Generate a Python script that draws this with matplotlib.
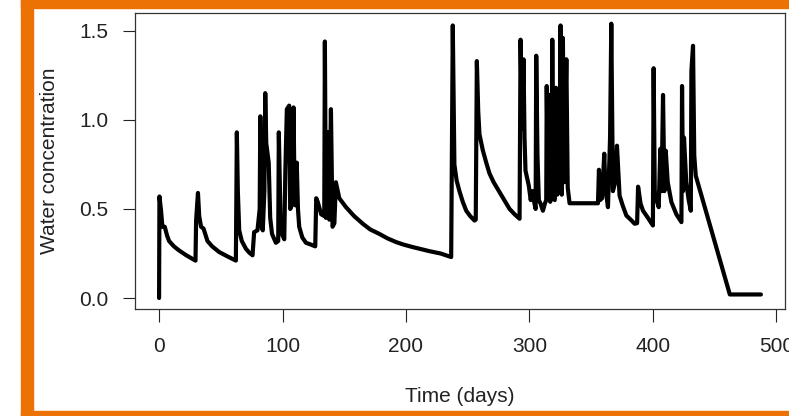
import matplotlib.pyplot as plt
from matplotlib.patches import Rectangle

# simulated water concentration through time
days = [0, 0.3, 1.6, 2.7, 4.6, 6.5, 8.1, 12, 16.2, 22, 29.5,
        30.0, 31.5, 32.5, 34, 36, 39.2, 43, 48.7, 55, 62.2,
        63.0, 63.8, 64.9, 67, 70.3, 73, 75.7,
        77.0, 79.7, 81.5, 82.0, 83.0, 84.0, 85.3, 86.0, 86.8, 88.8, 90.0, 91.5, 94.6,
        96.5, 97.0, 98.5, 99.5, 101.4,
        102.3, 103.5, 105.4, 106.2, 107.5, 108.9, 109.8, 110.5, 111.5, 112.5, 113.5,
        116, 119, 123, 126.5,
        127.3, 128.5, 131.3, 133.8, 134.3, 135.1, 136.7, 137.9, 139.2, 140.5, 142.0, 143.2,
        146, 151.4, 158, 165, 171, 178.4, 185, 192, 198, 205.4, 212, 219, 228, 236.6,
        237.9, 239.2, 241, 243.3, 246, 248.8, 252, 255.5, 256.5,
        257.4, 258.5, 259.5, 262.2, 265, 267.6, 271, 275.8, 280, 283.9, 288, 292,
        292.8, 294.0, 295.2, 296.0, 296.8, 299.5, 301.0, 302.5, 303.5, 305.0,
        305.5, 306.5, 307.6, 309.0, 310.9, 312.5, 313.6,
        314.0, 315.0, 315.8, 316.8, 317.8, 318.5, 319.5, 320.5, 321.5, 322.5, 323.5, 324.3,
        325.2, 326.2, 327.1, 328.0, 329.9, 331.0, 332.5, 355.5,
        356.3, 357.3, 358.8, 360.6, 361.5, 363.6, 365.3, 366.3, 367.6, 369.5, 370.9,
        373, 375.5, 378.5, 382, 385.2, 387.2, 388, 390, 392, 396, 400,
        400.6, 401.5, 403.0, 404.7, 406.0, 407.0, 408.2, 409.3, 410.4, 412, 415, 419, 423.1,
        423.6, 424.4, 425.2, 427, 429, 430.7, 431.2, 432.5, 433.5, 434.7,
        462.3, 487.5]
conc = [0.00, 0.57, 0.49, 0.40, 0.40, 0.35, 0.32, 0.29, 0.267, 0.24, 0.21,
        0.435, 0.59, 0.46, 0.40, 0.39, 0.32, 0.29, 0.258, 0.235, 0.21,
        0.93, 0.60, 0.38, 0.32, 0.277, 0.255, 0.24,
        0.37, 0.38, 0.50, 1.02, 0.40, 0.38, 0.60, 1.15, 0.87, 0.76, 0.45, 0.36, 0.31,
        0.32, 0.93, 0.40, 0.36, 0.33,
        0.72, 1.06, 1.08, 0.50, 0.52, 1.07, 0.55, 0.52, 0.76, 0.50, 0.40,
        0.34, 0.31, 0.30, 0.29,
        0.56, 0.54, 0.47, 0.46, 1.44, 0.45, 0.93, 0.44, 1.06, 0.40, 0.42, 0.65,
        0.56, 0.51, 0.46, 0.417, 0.385, 0.36, 0.335, 0.314, 0.30, 0.286, 0.275, 0.263, 0.25, 0.23,
        1.53, 0.75, 0.66, 0.60, 0.54, 0.49, 0.46, 0.435, 0.44,
        1.33, 1.05, 0.92, 0.83, 0.76, 0.70, 0.65, 0.594, 0.545, 0.50, 0.47, 0.445,
        1.45, 0.95, 1.34, 0.90, 0.715, 0.63, 0.55, 0.60, 0.55, 0.50,
        1.36, 0.80, 0.55, 0.53, 0.49, 0.53, 0.55,
        1.19, 0.60, 1.14, 0.54, 0.57, 1.45, 0.56, 0.55, 1.18, 0.58, 1.00, 0.60,
        1.53, 0.58, 1.46, 0.65, 1.34, 0.62, 0.532, 0.532,
        0.72, 0.55, 0.56, 0.81, 0.62, 0.51, 0.90, 1.54, 0.60, 0.65, 0.855,
        0.575, 0.52, 0.463, 0.44, 0.417, 0.42, 0.625, 0.53, 0.49, 0.45, 0.407,
        1.29, 0.60, 0.55, 0.51, 0.837, 0.60, 1.14, 0.60, 0.827, 0.65, 0.538, 0.47, 0.426,
        1.19, 0.60, 0.90, 0.65, 0.55, 0.49, 1.276, 1.416, 0.80, 0.687,
        0.02, 0.02]

xticks = [0, 100, 200, 300, 400, 500]
yticks = [0.0, 0.5, 1.0, 1.5]

plt.rcParams['font.family'] = ['Liberation Sans', 'DejaVu Sans']
fig = plt.figure(figsize=(7.89, 4.16), dpi=100)

# orange frame around the panel
orange = '#EC7205'
W, H = 789, 416
for x0, y0, w, h in [(21, 0, 12, 416), (21, 0, 768, 8), (21, 411, 768, 5)]:
    fig.patches.append(Rectangle((x0 / W, 1 - (y0 + h) / H), w / W, h / H,
                                 transform=fig.transFigure, color=orange, zorder=0))

ax = fig.add_axes([135 / W, 1 - 309 / H, 650 / W, 296.3 / H])
ax.plot(days, conc, color='black', lw=3, solid_joinstyle='round', solid_capstyle='round')

# R-style 4% padding on both axes
xr = max(days) - min(days)
yr = max(conc) - min(conc)
ax.set_xlim(min(days) - 0.04 * xr, max(days) + 0.04 * xr)
ax.set_ylim(min(conc) - 0.04 * yr, max(conc) + 0.04 * yr)

fs = 15
ax.set_xticks(xticks)
ax.set_xticklabels([str(t) for t in xticks])
ax.set_yticks(yticks)
ax.set_yticklabels(['%.1f' % t for t in yticks])
ax.tick_params(direction='out', length=9, width=0.8, color='#222222',
               labelsize=fs, labelcolor='#222222')
ax.tick_params(axis='x', pad=11)
ax.tick_params(axis='y', pad=10)
for s in ax.spines.values():
    s.set_linewidth(0.9)
    s.set_color('#333333')

ax.set_xlabel('Time (days)', fontsize=fs, color='#222222')
ax.set_ylabel('Water concentration', fontsize=fs, color='#222222')
ax.xaxis.set_label_coords(0.5, -0.262)
ax.yaxis.set_label_coords(-0.117, 0.5)

fig.savefig('out.png', dpi=100)
